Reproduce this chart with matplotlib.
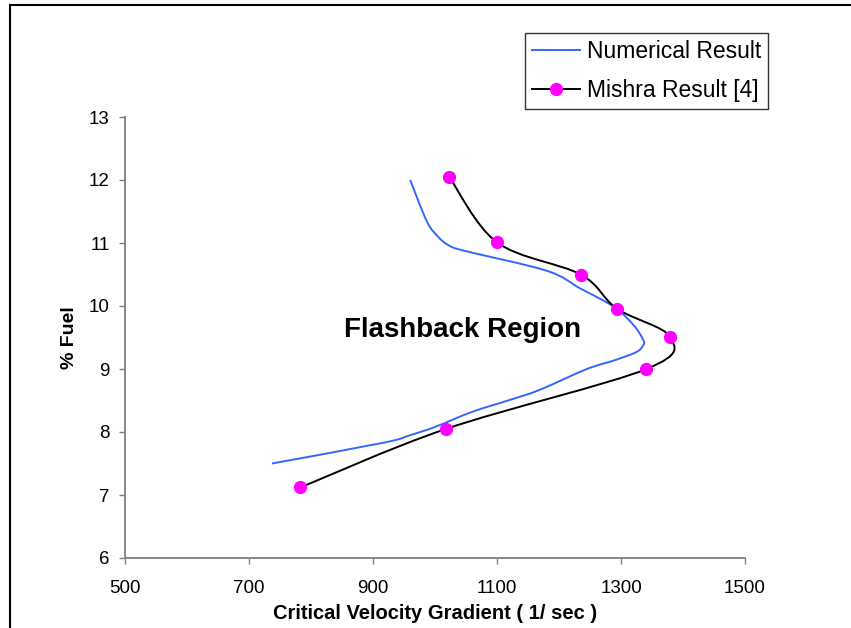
import numpy as np
import matplotlib
matplotlib.use("Agg")
import matplotlib.pyplot as plt
from matplotlib.path import Path
from matplotlib.patches import PathPatch, Rectangle
from matplotlib.lines import Line2D

plt.rcParams['font.family'] = ['Liberation Sans', 'DejaVu Sans']

# Numerical result (blue curve)
num_x = [960, 987, 1005, 1021, 1046, 1180, 1234, 1288, 1320, 1336, 1336,
         1325, 1290, 1245, 1169, 1121, 1060, 1000, 960, 917, 737]
num_y = [12.0, 11.34, 11.10, 10.97, 10.88, 10.56, 10.28, 9.99, 9.70, 9.46, 9.38,
         9.27, 9.14, 9.0, 8.67, 8.51, 8.32, 8.08, 7.95, 7.83, 7.50]

# Mishra result [4] (black line, magenta markers)
mishra_x = [1023, 1100, 1235, 1293, 1379, 1341, 1018, 783]
mishra_y = [12.05, 11.01, 10.50, 9.96, 9.51, 9.00, 8.05, 7.12]

x_ticks = [500, 700, 900, 1100, 1300, 1500]
y_ticks = [6, 7, 8, 9, 10, 11, 12, 13]


def smooth_path(xs, ys):
    # Excel-like smoothed line: cubic Bezier segments through the points
    pts = np.column_stack([xs, ys]).astype(float)
    n = len(pts)
    verts = [pts[0]]
    codes = [Path.MOVETO]
    for i in range(n - 1):
        p0 = pts[i - 1] if i > 0 else pts[i]
        p1 = pts[i]
        p2 = pts[i + 1]
        p3 = pts[i + 2] if i + 2 < n else pts[i + 1]
        verts += [p1 + (p2 - p0) / 6, p2 - (p3 - p1) / 6, p2]
        codes += [Path.CURVE4] * 3
    return Path(verts, codes)


fig = plt.figure(figsize=(8.51, 6.28), dpi=100)
ax = fig.add_axes([125 / 851, 1 - 558 / 628, 620 / 851, 441 / 628])

blue = '#3366FF'
ax.add_patch(PathPatch(smooth_path(num_x, num_y), fill=False, edgecolor=blue, lw=1.4, zorder=2))
ax.add_patch(PathPatch(smooth_path(mishra_x, mishra_y), fill=False, edgecolor='black', lw=1.4, zorder=3))
ax.plot(mishra_x, mishra_y, linestyle='none', marker='o', markersize=8.5,
        markerfacecolor='#FF00FF', markeredgecolor='#FF00FF', zorder=4)

ax.set_xlim(500, 1500)
ax.set_ylim(6, 13)
ax.set_xticks(x_ticks)
ax.set_yticks(y_ticks)

for side in ['top', 'right']:
    ax.spines[side].set_visible(False)
for side in ['left', 'bottom']:
    ax.spines[side].set_color('#808080')
    ax.spines[side].set_linewidth(1.3)
ax.tick_params(direction='out', length=4, width=1, color='#808080',
               labelsize=13.5, labelcolor='black')
ax.tick_params(axis='x', pad=12)
ax.tick_params(axis='y', pad=7)

ax.set_xlabel('Critical Velocity Gradient ( 1/ sec )', fontsize=14.5, fontweight='bold', labelpad=5)
ax.set_ylabel('% Fuel', fontsize=14, fontweight='bold', labelpad=8)

ax.text(1045, 9.62, 'Flashback Region', fontsize=20, fontweight='bold',
        ha='center', va='center')

handles = [
    Line2D([], [], color=blue, lw=1.4),
    Line2D([], [], color='black', lw=1.4, marker='o', markersize=8.5,
           markerfacecolor='#FF00FF', markeredgecolor='#FF00FF'),
]
leg = fig.legend(handles, ['Numerical Result', 'Mishra Result [4]'],
                 loc='upper right', bbox_to_anchor=(768 / 851, 1 - 33 / 628),
                 fontsize=16.5, frameon=True, fancybox=False, edgecolor='black',
                 handlelength=2.1, handletextpad=0.3, labelspacing=0.72,
                 borderpad=0.3, borderaxespad=0)
leg.get_frame().set_linewidth(1.0)

# outer border of the chart area
fig.patches.append(Rectangle((10 / 851, -0.1), 1.2, 1.1 - 5 / 628, transform=fig.transFigure,
                             fill=False, edgecolor='black', lw=1.5))

fig.savefig('out.png', dpi=100)
